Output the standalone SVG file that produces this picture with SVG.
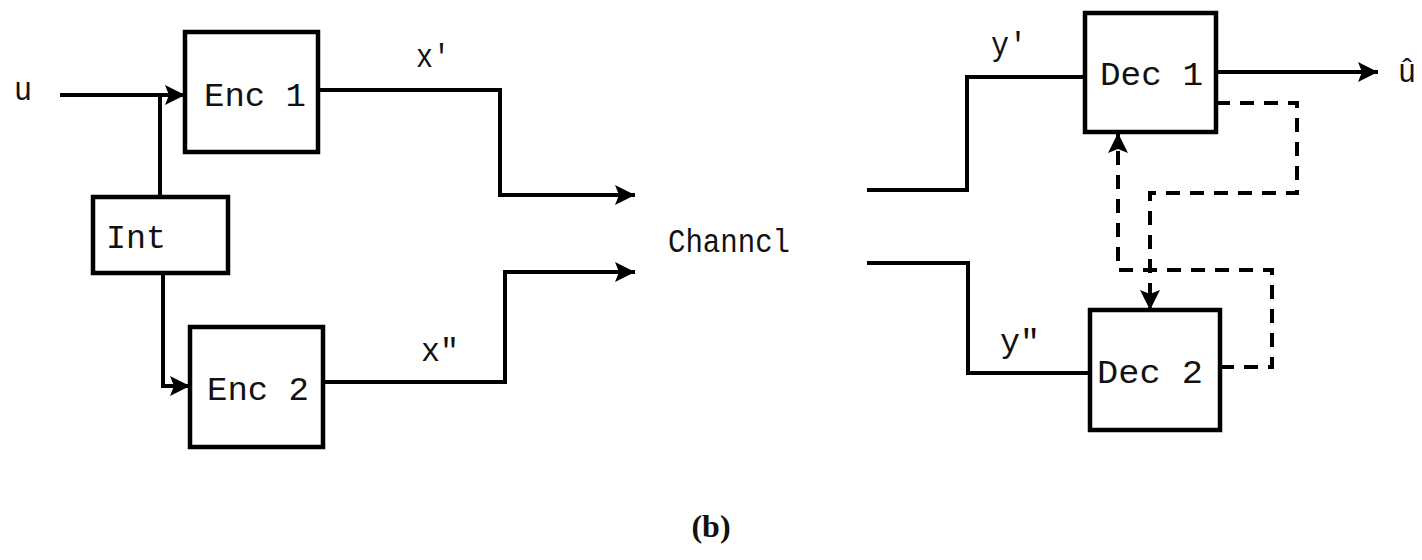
<svg xmlns="http://www.w3.org/2000/svg" width="1422" height="560" viewBox="0 0 1422 560">
<defs>
<marker id="ah" viewBox="0 0 10 10" refX="10" refY="5" markerWidth="6.5" markerHeight="5" markerUnits="strokeWidth" orient="auto">
<path d="M0,0 L10,5 L0,10 L2,5 Z" fill="#000"/>
</marker>
<style>
.box{fill:#fff;stroke:#000;stroke-width:4.5}
.ln{fill:none;stroke:#000;stroke-width:4;stroke-linejoin:miter}
.ds{fill:none;stroke:#000;stroke-width:4;stroke-dasharray:14 10}
.t{font-family:"Liberation Mono","DejaVu Sans Mono",monospace;font-size:34px;fill:#111}
.c{font-family:"Liberation Serif",serif;font-size:32px;font-weight:bold;fill:#111}
</style>
</defs>
<rect width="1422" height="560" fill="#fff"/>
<g id="connectors">
<path class="ln" d="M60,95 L185,95" marker-end="url(#ah)"/>
<path class="ln" d="M160,197 L160,95"/>
<path class="ln" d="M163,273 L163,386 L190,386" marker-end="url(#ah)"/>
<path class="ln" d="M318,90 L500,90 L500,195 L635,195" marker-end="url(#ah)"/>
<path class="ln" d="M323,382 L505,382 L505,272 L635,272" marker-end="url(#ah)"/>
<path class="ln" d="M867,190 L967,190 L967,77 L1085,77"/>
<path class="ln" d="M867,263 L968,263 L968,373 L1090,373"/>
<path class="ln" d="M1216,72 L1378,72" marker-end="url(#ah)"/>
<path class="ds" d="M1216,103 L1297,103 L1297,193 L1150,193 L1150,310" marker-end="url(#ah)"/>
<path class="ds" d="M1220,367 L1272,367 L1272,270 L1118,270 L1118,133" marker-end="url(#ah)"/>
</g>
<g id="enc1"><rect class="box" x="185" y="32" width="133" height="120"/><text class="t" x="204" y="106" textLength="102" lengthAdjust="spacingAndGlyphs">Enc 1</text></g>
<g id="enc2"><rect class="box" x="190" y="327" width="133" height="120"/><text class="t" x="207" y="400" textLength="102" lengthAdjust="spacingAndGlyphs">Enc 2</text></g>
<g id="int"><rect class="box" x="93" y="197" width="135" height="76"/><text class="t" x="106" y="248" textLength="60" lengthAdjust="spacingAndGlyphs">Int</text></g>
<g id="dec1"><rect class="box" x="1085" y="13" width="131" height="119"/><text class="t" x="1100" y="85" textLength="103" lengthAdjust="spacingAndGlyphs">Dec 1</text></g>
<g id="dec2"><rect class="box" x="1090" y="310" width="130" height="120"/><text class="t" x="1097" y="383" textLength="106" lengthAdjust="spacingAndGlyphs">Dec 2</text></g>
<g id="channel"><text class="t" x="668" y="252" textLength="122" lengthAdjust="spacingAndGlyphs">Channcl</text></g>
<g id="labels">
<text class="t" x="14" y="100" textLength="18" lengthAdjust="spacingAndGlyphs">u</text>
<text class="t" x="416" y="67" textLength="34" lengthAdjust="spacingAndGlyphs">x'</text>
<text class="t" x="421" y="361" textLength="38" lengthAdjust="spacingAndGlyphs">x"</text>
<text class="t" x="991" y="55" textLength="36" lengthAdjust="spacingAndGlyphs">y'</text>
<text class="t" x="1000" y="352" textLength="40" lengthAdjust="spacingAndGlyphs">y"</text>
<text class="t" x="1398" y="82" textLength="18" lengthAdjust="spacingAndGlyphs">û</text>
<text class="c" x="711" y="537" text-anchor="middle">(b)</text>
</g>
</svg>
